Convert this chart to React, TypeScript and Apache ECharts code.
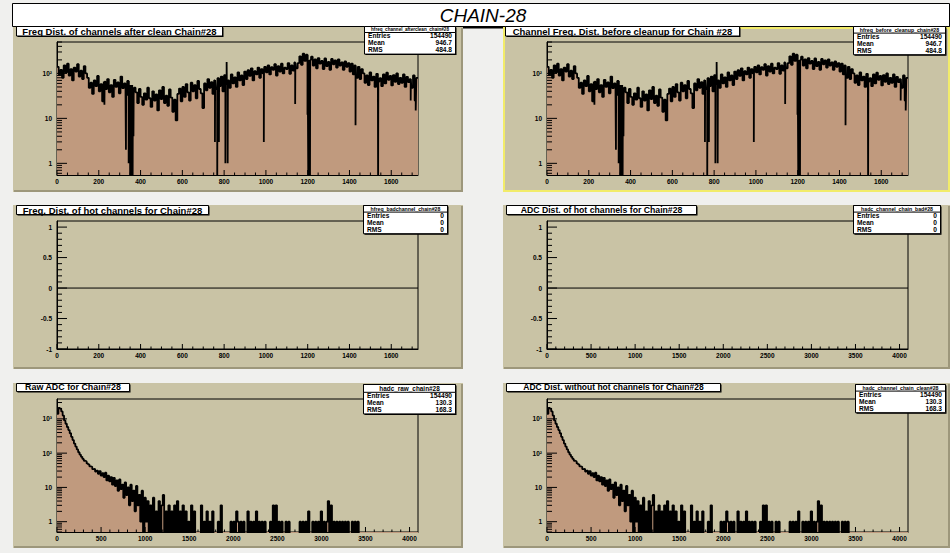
import React, { useEffect, useRef } from "react";
import * as echarts from "echarts";

const FONT = '"Liberation Sans", Arial, Helvetica, sans-serif';
const PAGE_BG = "#f0f0ee";
const PAD_FILL = "#c9c3a5";
const PAD_EDGE = "#9d977b";
const HIST_FILL = "#c09a7e";
const SELECT_EDGE = "#f2ec6a";

const CANVAS_TITLE = "CHAIN-28";

// Channel occupancy: 1728 channels, grouped into 8-channel bins
const CHANNEL_MAX = 1728;
const CHANNEL_BIN = 8;
const channelCounts = [
  140, 95, 120, 80, 150, 105, 165, 90, 125, 70, 135, 110, 160, 85, 115, 75, 145, 100,
  80, 48, 62, 35, 70, 52, 88, 40, 58, 24, 66, 45, 75, 38, 55, 30, 72, 50, 63, 36, 85, 47, 60, 33, 68, 42,
  55, 32, 48,
  38, 22, 45, 30, 20, 36, 26, 48, 28, 18, 40, 25, 34, 15, 42, 27, 50, 22, 32, 19, 44, 29, 14, 26, 9, 35, 46, 24,
  50, 30, 58, 38, 25, 62, 40, 55, 28, 68, 45, 36, 17, 60, 42, 75, 48, 64, 35, 70,
  45, 78, 52, 85, 40, 92, 58, 70, 48,
  95, 60, 82, 50, 105, 70, 90, 55, 110,
  75, 118, 88, 130, 70, 112, 95, 135, 80, 125, 100, 140,
  105, 150, 95, 138, 120, 160, 90, 145, 110, 165, 100, 135, 125, 170, 98, 150, 115, 175, 130,
  170, 240, 155, 275, 190, 260, 150,
  200,
  235, 150, 205, 130, 220, 165, 190, 125, 215, 145, 180, 120, 210, 160, 195, 135, 205, 150, 175, 120, 185, 140, 170,
  110, 165, 95, 150, 80, 140, 75, 125,
  100, 62, 90, 55, 105, 70, 85, 50, 98, 66, 78, 52, 95, 60, 104, 72, 88, 54, 92, 65, 100, 58, 80, 62, 95, 50, 84, 64, 75, 48, 90, 25, 80,
];
// Single channels that stand apart from their bin: [channel, count]
const channelOutliers = [
  [227, 20], [330, 2], [343, 1], [350, 0], [353, 0], [356, 0], [359, 0], [362, 0], [366, 4],
  [570, 9], [756, 3], [767, 0], [775, 3], [806, 1], [812, 180], [817, 1], [990, 3], [1140, 21],
  [1199, 12], [1203, 0], [1205, 0], [1207, 0], [1209, 0], [1211, 0], [1429, 7], [1537, 0],
  [1693, 25], [1717, 15],
];

// Raw ADC spectrum: 12-bit range, grouped into 16-count bins
const ADC_MAX = 4096;
const ADC_BIN = 16;
const adcCounts = [
  1400, 2100, 2000, 1650, 1250, 900, 720, 580, 470, 380,
  300, 240, 190, 155, 128, 106, 90, 78, 68, 60,
  58, 50, 47, 41, 40, 34, 35, 29, 31, 25,
  30, 22, 26, 20, 27, 16, 22, 15, 20, 12,
  19, 11, 16, 8, 17, 9, 12, 5, 14, 6,
  10, 3, 12, 4, 8, 2, 11, 3, 6, 1,
  8, 0, 5, 1,
  4, 0, 3, 0, 5, 0, 2, 0, 4, 0, 3, 6, 0, 2, 0, 3, 0, 2, 0, 3, 0, 4, 0, 2, 0, 3, 0, 2, 0, 1, 0, 3,
  0, 2, 0, 0, 0, 0, 3, 0, 1, 0, 2, 0, 1, 0, 2, 0, 0, 0, 1, 0, 3, 0, 0, 0, 0, 0, 0, 1, 0, 1, 0, 2,
  1, 0, 1, 0, 1, 0, 0, 2, 0, 1, 0, 1, 0, 2, 0, 1, 0, 1, 0, 1, 0, 0, 0, 1, 0, 3, 0, 3, 0, 1, 0, 1,
  0, 0, 1, 0, 1, 0, 0, 0, 0, 0, 0, 0, 1, 0, 1, 0, 1, 0, 2, 0, 0, 1, 0, 1, 0, 1, 0, 2, 0, 1, 0, 1,
  4, 0, 3, 0, 1, 0, 1, 0, 1, 0, 1, 0, 1, 0, 1, 0, 0, 1, 0, 1, 0, 1, 0, 0, 0, 0, 0, 0, 0, 0, 0, 0,
  0, 0, 0, 0, 0, 0, 0, 0, 0, 0, 0, 0, 0, 0, 0, 0, 0, 0, 0, 0, 0, 0, 0, 0, 0, 0, 0, 0, 0, 0, 0, 0,
];

// Hot-channel histograms have no entries
const hotChannelCounts = [0];
const hotAdcCounts = [0];

const statLabels = ["Entries", "Mean", "RMS"];
const cleanFreqStats = ["154490", "946.7", "484.8"];
const rawFreqStats = ["154490", "946.7", "484.8"];
const hotFreqStats = ["0", "0", "0"];
const hotAdcStats = ["0", "0", "0"];
const rawAdcStats = ["154490", "130.3", "168.3"];
const cleanAdcStats = ["154490", "130.3", "168.3"];

const LOG_FLOOR = 0.3;

type Pad = {
  pad: number[];
  grid: number[];
  title: string;
  titleBox: number[];
  titleSize: number;
  titleY: number;
  statsBox: number[];
  histName: string;
  nameSize: number;
  stats: string[];
  xMax: number;
  xMajor: number;
  xMinor: number;
  yLog: boolean;
  yMin: number;
  yMax: number;
  points: number[][];
  filled: boolean;
  selected?: boolean;
};

function histogramPoints(counts: number[], binWidth: number, xMax: number, outliers: number[][], floor: number | null) {
  const shown = (v: number) => (floor !== null && v <= 0 ? floor : v);
  const pts: number[][] = [];
  counts.forEach((c, i) => {
    const lo = i * binWidth;
    const hi = Math.min(lo + binWidth, xMax);
    pts.push([lo, shown(c)]);
    outliers
      .filter(([ch]) => ch >= lo && ch < hi)
      .sort((a, b) => a[0] - b[0])
      .forEach(([ch, v]) => {
        pts.push([ch, shown(v)]);
        pts.push([ch + 1, shown(c)]);
      });
  });
  pts.push([xMax, shown(counts[counts.length - 1])]);
  return pts;
}

const channelPoints = histogramPoints(channelCounts, CHANNEL_BIN, CHANNEL_MAX, channelOutliers, LOG_FLOOR);
const adcPoints = histogramPoints(adcCounts, ADC_BIN, ADC_MAX, [], LOG_FLOOR);
const hotChannelPoints = histogramPoints(hotChannelCounts, CHANNEL_MAX, CHANNEL_MAX, [], null);
const hotAdcPoints = histogramPoints(hotAdcCounts, ADC_MAX, ADC_MAX, [], null);

const PADS: Pad[] = [
  {
    pad: [13, 27, 450, 165], grid: [57, 42, 361, 133],
    title: "Freq Dist. of channels after clean Chain#28", titleBox: [16, 26, 206, 9.5], titleSize: 9.5, titleY: 31.2,
    statsBox: [364, 26, 91, 27], histName: "hfreq_channel_afterclean_chain#28", nameSize: 4.6, stats: cleanFreqStats,
    xMax: CHANNEL_MAX, xMajor: 200, xMinor: 50, yLog: true, yMin: 0.55, yMax: 500, points: channelPoints, filled: true,
  },
  {
    pad: [503, 27, 447, 165], grid: [547, 42, 361, 133],
    title: "Channel Freq. Dist. before cleanup for Chain #28", titleBox: [505, 26, 234, 9.5], titleSize: 9.5, titleY: 31.2,
    statsBox: [853, 26, 92, 27], histName: "hfreq_before_cleanup_chain#28", nameSize: 5.2, stats: rawFreqStats,
    xMax: CHANNEL_MAX, xMajor: 200, xMinor: 50, yLog: true, yMin: 0.55, yMax: 500, points: channelPoints, filled: true,
    selected: true,
  },
  {
    pad: [13, 205, 450, 164], grid: [57, 221, 361, 128],
    title: "Freq. Dist. of hot channels for Chain#28", titleBox: [16, 205, 192, 9], titleSize: 9.5, titleY: 210,
    statsBox: [363, 205, 84, 27], histName: "hfreq_badchannel_chain#28", nameSize: 5.2, stats: hotFreqStats,
    xMax: CHANNEL_MAX, xMajor: 200, xMinor: 50, yLog: false, yMin: -1, yMax: 1.1, points: hotChannelPoints, filled: false,
  },
  {
    pad: [503, 205, 447, 164], grid: [547, 221, 361, 128],
    title: "ADC Dist. of hot channels for Chain#28", titleBox: [506, 205, 190, 9], titleSize: 8.7, titleY: 210,
    statsBox: [853, 205, 87, 27], histName: "hadc_channel_chain_bad#28", nameSize: 5.2, stats: hotAdcStats,
    xMax: ADC_MAX, xMajor: 500, xMinor: 100, yLog: false, yMin: -1, yMax: 1.1, points: hotAdcPoints, filled: false,
  },
  {
    pad: [13, 383, 450, 165], grid: [57, 399, 361, 133],
    title: "Raw ADC for Chain#28", titleBox: [16, 383, 113, 8], titleSize: 8.9, titleY: 386.5,
    statsBox: [363, 384, 92, 27], histName: "hadc_raw_chain#28", nameSize: 6.4, stats: rawAdcStats,
    xMax: ADC_MAX, xMajor: 500, xMinor: 100, yLog: true, yMin: 0.5, yMax: 3800, points: adcPoints, filled: true,
  },
  {
    pad: [503, 383, 447, 165], grid: [547, 399, 361, 133],
    title: "ADC Dist. without hot channels for Chain#28", titleBox: [506, 383, 214, 8], titleSize: 8.5, titleY: 386.5,
    statsBox: [855, 384, 90, 27], histName: "hadc_channel_chain_clean#28", nameSize: 5.2, stats: cleanAdcStats,
    xMax: ADC_MAX, xMajor: 500, xMinor: 100, yLog: true, yMin: 0.5, yMax: 3800, points: adcPoints, filled: true,
  },
];

// Tick marks drawn inward, ROOT style: [x, y, kind] with kind 0/1 = y major/minor, 2/3 = x major/minor
function tickItems(p: Pad) {
  const items: number[][] = [];
  for (let v = 0; v <= p.xMax; v += p.xMinor) items.push([v, p.yMin, v % p.xMajor === 0 ? 2 : 3]);
  if (p.yLog) {
    for (let d = -1; d <= 4; d++) {
      for (let m = 1; m <= 9; m++) {
        const v = m * Math.pow(10, d);
        if (v >= p.yMin && v <= p.yMax) items.push([0, v, m === 1 ? 0 : 1]);
      }
    }
  } else {
    for (let k = -10; k <= 10; k++) items.push([0, k / 10, k % 5 === 0 ? 0 : 1]);
  }
  return items;
}

const SUPERSCRIPT = ["", "", "²", "³", "⁴"];
function logLabel(v: number) {
  const l = Math.log10(v);
  const e = Math.round(l);
  if (Math.abs(l - e) > 1e-6 || e < 0) return "";
  if (e === 0) return "1";
  if (e === 1) return "10";
  return "10" + SUPERSCRIPT[e];
}

const labelStyle = { color: "#000", fontFamily: FONT, fontWeight: "bold" as const, fontSize: 6.5 };

function textEl(x: number, y: number, s: string, font: string, align: string, z: number) {
  return {
    type: "text", x, y, z, silent: true,
    style: { text: s, font, fill: "#000", align, verticalAlign: "middle", textAlign: align, textVerticalAlign: "middle" },
  };
}

function boxEls(x: number, y: number, w: number, h: number, z: number) {
  return [
    { type: "rect", z, silent: true, shape: { x: x + 1.5, y: y + 1.5, width: w, height: h }, style: { fill: "#000" } },
    { type: "rect", z: z + 1, silent: true, shape: { x: x + 0.5, y: y + 0.5, width: w, height: h }, style: { fill: "#fff", stroke: "#000", lineWidth: 1 } },
  ];
}

function buildOption() {
  const graphic: any[] = [];

  // canvas title
  graphic.push({ type: "rect", z: -20, silent: true, shape: { x: 12.5, y: 3.5, width: 937, height: 23 }, style: { fill: "#fff", stroke: "#000", lineWidth: 1 } });
  graphic.push({ type: "line", z: -20, silent: true, shape: { x1: 14, y1: 27.5, x2: 950, y2: 27.5 }, style: { stroke: "#000", lineWidth: 2 } });
  graphic.push(textEl(483, 15, CANVAS_TITLE, `italic 19px ${FONT}`, "center", -19));

  PADS.forEach((p, i) => {
    const [px, py, pw, ph] = p.pad;
    graphic.push({ type: "rect", z: -10, silent: true, shape: { x: px, y: py, width: pw, height: ph }, style: { fill: PAD_FILL } });
    graphic.push({
      type: "polyline", z: -9, silent: true,
      shape: { points: [[px + 1, py + ph - 1], [px + pw - 1, py + ph - 1], [px + pw - 1, py + 1]] },
      style: { stroke: PAD_EDGE, lineWidth: 2, fill: "none" },
    });
    if (p.selected) {
      graphic.push({ type: "rect", z: -8, silent: true, shape: { x: px + 1, y: py + 1, width: pw - 2, height: ph - 2 }, style: { fill: "none", stroke: SELECT_EDGE, lineWidth: 2 } });
    }

    const zb = 20 + i * 20;
    const [tx, ty, tw, th] = p.titleBox;
    graphic.push(...boxEls(tx, ty, tw, th, zb));
    graphic.push(textEl(tx + tw / 2 + 0.5, p.titleY, p.title, `bold ${p.titleSize}px ${FONT}`, "center", zb + 2));

    // statistics box: name header, then Entries / Mean / RMS
    const [sx, sy, sw] = p.statsBox;
    const hh = p.nameSize + 1.4;
    const row0 = sy + hh + 3.6;
    const rowY = (r: number) => row0 + 6.9 * r;
    const sh = rowY(2) + 4.2 - sy;
    const statFont = `bold 6.6px ${FONT}`;
    graphic.push(...boxEls(sx, sy, sw, sh, zb + 3));
    graphic.push({ type: "rect", z: zb + 5, silent: true, shape: { x: sx + 0.5, y: sy + 0.5, width: sw, height: hh }, style: { fill: "#fff", stroke: "#000", lineWidth: 1 } });
    graphic.push(textEl(sx + sw / 2 + 0.5, sy + 0.5 + hh / 2, p.histName, `bold ${p.nameSize}px ${FONT}`, "center", zb + 6));
    for (let r = 0; r < 3; r++) {
      graphic.push(textEl(sx + 4, rowY(r), statLabels[r], statFont, "left", zb + 7));
      graphic.push(textEl(sx + sw - 3, rowY(r), p.stats[r], statFont, "right", zb + 7));
    }
  });

  const grid = PADS.map((p) => ({
    left: p.grid[0], top: p.grid[1], width: p.grid[2], height: p.grid[3],
    show: true, borderColor: "#000", borderWidth: 1, backgroundColor: "transparent", containLabel: false,
  }));

  const xAxis = PADS.map((p, i) => ({
    type: "value", gridIndex: i, min: 0, max: p.xMax, interval: p.xMajor,
    axisLine: { show: true, onZero: false, lineStyle: { color: "#000", width: 1 } },
    axisTick: { show: false }, minorTick: { show: false }, splitLine: { show: false },
    axisLabel: { ...labelStyle, margin: 3, showMaxLabel: false, formatter: (v: number) => String(Math.round(v)) },
  }));

  const yAxis = PADS.map((p, i) =>
    p.yLog
      ? {
          type: "log", logBase: 10, gridIndex: i, min: p.yMin, max: p.yMax,
          axisLine: { show: true, onZero: false, lineStyle: { color: "#000", width: 1 } },
          axisTick: { show: false }, minorTick: { show: false }, splitLine: { show: false },
          axisLabel: { ...labelStyle, margin: 5, showMinLabel: false, showMaxLabel: false, formatter: logLabel },
        }
      : {
          type: "value", gridIndex: i, min: p.yMin, max: p.yMax, interval: 0.5,
          axisLine: { show: true, onZero: false, lineStyle: { color: "#000", width: 1 } },
          axisTick: { show: false }, minorTick: { show: false }, splitLine: { show: false },
          axisLabel: { ...labelStyle, margin: 5, showMaxLabel: false },
        }
  );

  const series: any[] = [];
  PADS.forEach((p, i) => {
    series.push({
      type: "line", xAxisIndex: i, yAxisIndex: i, data: p.points, step: "end",
      symbol: "none", showSymbol: false, silent: true, clip: true, z: 2,
      lineStyle: { color: "#000", width: p.filled ? 1.8 : 1 },
      areaStyle: p.filled ? { color: HIST_FILL, opacity: 1, origin: "start" } : undefined,
    });
    series.push({
      type: "custom", xAxisIndex: i, yAxisIndex: i, data: tickItems(p), silent: true, z: 5,
      encode: { x: 0, y: 1 },
      renderItem: (_params: any, api: any) => {
        const kind = api.value(2);
        const pt = api.coord([api.value(0), api.value(1)]);
        const len = [10, 5, 5, 2.5][kind];
        const shape = kind < 2
          ? { x1: pt[0], y1: pt[1], x2: pt[0] + len, y2: pt[1] }
          : { x1: pt[0], y1: pt[1], x2: pt[0], y2: pt[1] - len };
        return { type: "line", shape, style: { stroke: "#000", lineWidth: 1 } };
      },
    });
  });

  return {
    animation: false,
    backgroundColor: PAGE_BG,
    grid, xAxis, yAxis, series, graphic,
  };
}

export default function App() {
  const ref = useRef<HTMLDivElement>(null);
  useEffect(() => {
    if (!ref.current) return;
    const chart = echarts.init(ref.current, undefined, { renderer: "svg", width: 950, height: 553 });
    chart.setOption(buildOption() as any);
    return () => chart.dispose();
  }, []);
  return (
    <div
      ref={ref}
      style={{ position: "fixed", left: 0, top: 0, width: 950, height: 553, background: PAGE_BG }}
    />
  );
}
